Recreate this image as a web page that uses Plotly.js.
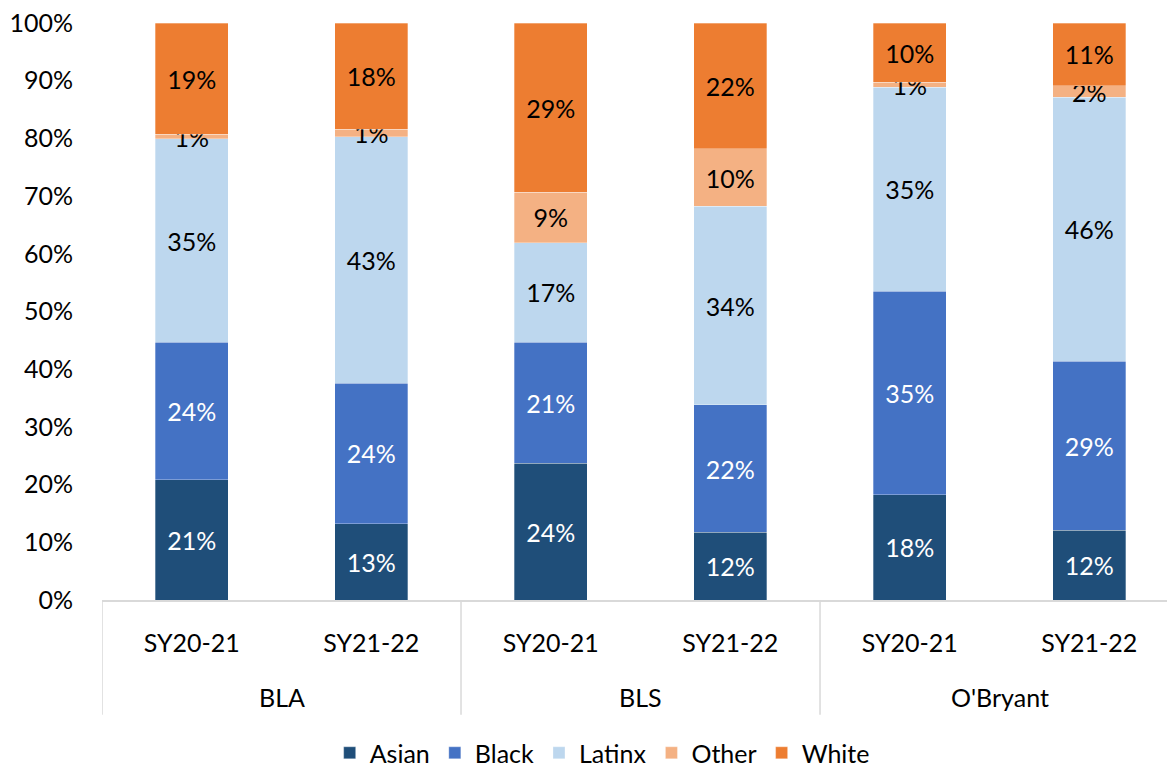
<!DOCTYPE html>
<html>
<head>
<meta charset="utf-8">
<script src="https://cdn.plot.ly/plotly-3.0.1.min.js"></script>
<style>
  html, body { margin: 0; padding: 0; background: #fff; }
  #chart { width: 1167px; height: 770px; }
</style>
</head>
<body>
<div id="chart"></div>
<script>
// Categories
const schools = ['BLA', 'BLA', 'BLS', 'BLS', "O'Bryant", "O'Bryant"];
const years = ['SY20-21', 'SY21-22', 'SY20-21', 'SY21-22', 'SY20-21', 'SY21-22'];

// Series values (percent of students)
const asian  = [20.8, 13.2, 23.7, 11.7, 18.2, 12.1];
const black  = [23.9, 24.4, 21.0, 22.1, 35.3, 29.3];
const latinx = [35.2, 42.7, 17.2, 34.4, 35.4, 45.7];
const other  = [0.8, 1.3, 8.8, 10.0, 0.8, 2.0];
const white  = [19.3, 18.4, 29.3, 21.8, 10.3, 10.9];

const seriesNames = ['Asian', 'Black', 'Latinx', 'Other', 'White'];
const seriesValues = [asian, black, latinx, other, white];
const seriesColors = ['#1F4E79', '#4472C4', '#BDD7EE', '#F4B183', '#ED7D31'];
const labelColors = ['#ffffff', '#ffffff', '#000000', '#000000', '#000000'];

const FONT = 'Lato, "Open Sans", sans-serif';
const FS = 25;
const AXIS_GREY = '#d9d9d9';

// category positions on the x axis (one slot per school-year)
const xIdx = years.map((_, i) => i);

// school groups: first/last slot of each
const groups = [];
schools.forEach((s, i) => {
  const g = groups.length ? groups[groups.length - 1] : null;
  if (g && g.name === s) g.last = i;
  else groups.push({ name: s, first: i, last: i });
});

const traces = seriesNames.map((name, i) => ({
  type: 'bar',
  name: name,
  x: xIdx,
  y: seriesValues[i],
  marker: { color: seriesColors[i], line: { color: 'rgba(255,255,255,0.6)', width: 0.5 } },
  texttemplate: '%{y:.0f}%',
  textposition: 'inside',
  insidetextanchor: 'middle',
  textangle: 0,
  constraintext: 'none',
  cliponaxis: false,
  textfont: { family: FONT, size: FS, color: labelColors[i] },
  hoverinfo: 'skip'
}));

// group labels and dividers below the axis
const GROUP_LABEL_Y = -0.168;
const DIVIDER_BOTTOM = -0.199;
const annotations = groups.map(g => ({
  xref: 'x', yref: 'paper',
  x: (g.first + g.last) / 2, y: GROUP_LABEL_Y,
  text: g.name, showarrow: false,
  xanchor: 'center', yanchor: 'middle',
  font: { family: FONT, size: FS, color: '#000000' }
}));
const boundaries = groups.map(g => g.first - 0.5).concat([groups[groups.length - 1].last + 0.5]);
const shapes = boundaries.map(b => ({
  type: 'line', xref: 'x', yref: 'paper',
  x0: b, x1: b, y0: 0, y1: DIVIDER_BOTTOM,
  line: { color: AXIS_GREY, width: 1.5 }
}));

const layout = {
  width: 1167,
  height: 770,
  barmode: 'stack',
  bargap: 0.593,
  paper_bgcolor: '#ffffff',
  plot_bgcolor: '#ffffff',
  margin: { l: 102, r: 0, t: 23, b: 170 },
  font: { family: FONT, size: FS, color: '#000000' },
  showlegend: true,
  legend: {
    orientation: 'h',
    x: 0.516, xanchor: 'center', xref: 'container',
    y: 0.022, yanchor: 'middle', yref: 'container',
    font: { family: FONT, size: 25, color: '#000000' },
    traceorder: 'normal',
    itemwidth: 30
  },
  annotations: annotations,
  shapes: shapes,
  xaxis: {
    type: 'linear',
    range: [-0.5, 5.433],
    tickvals: xIdx,
    ticktext: years,
    showline: true,
    linecolor: AXIS_GREY,
    linewidth: 1.5,
    showgrid: false,
    zeroline: false,
    ticks: '',
    ticklabelstandoff: 20,
    tickfont: { family: FONT, size: FS, color: '#000000' }
  },
  yaxis: {
    range: [0, 100],
    dtick: 10,
    ticksuffix: '%',
    showgrid: false,
    zeroline: false,
    showline: false,
    ticks: '',
    ticklabelstandoff: 28,
    tickfont: { family: FONT, size: FS, color: '#000000' }
  }
};

Plotly.newPlot('chart', traces, layout, { displayModeBar: false, staticPlot: true });
</script>
</body>
</html>
